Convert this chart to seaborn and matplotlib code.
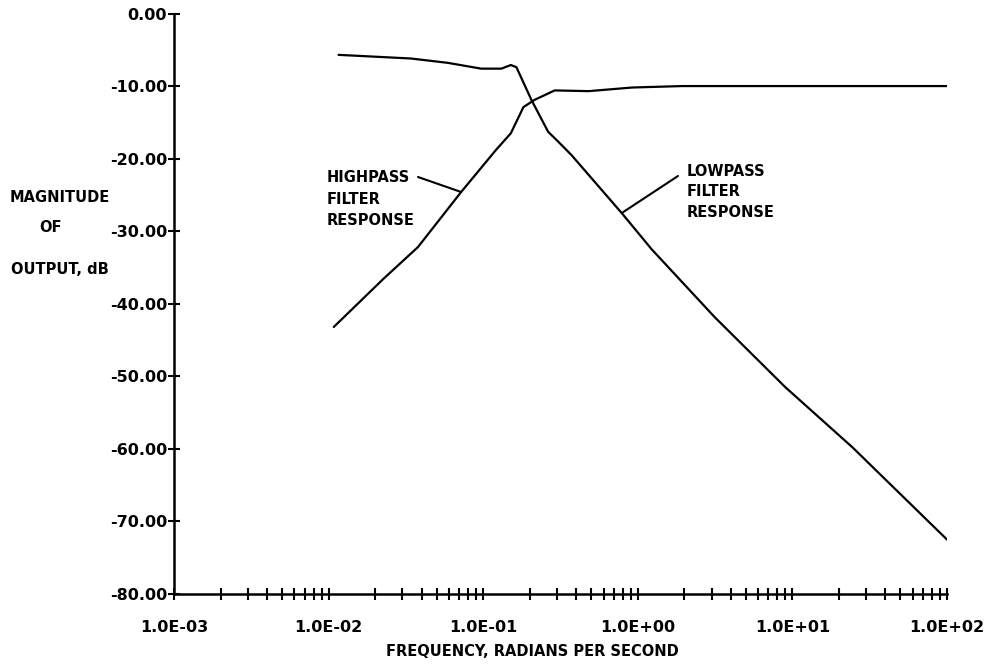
import matplotlib
matplotlib.use("Agg")
import matplotlib.pyplot as plt
import seaborn as sns
import numpy as np
import pandas as pd
from matplotlib.ticker import FixedLocator, FuncFormatter, LogLocator, NullFormatter

# ---- data ----
lowpass_freq = [0.0116, 0.034, 0.059, 0.097, 0.131, 0.151, 0.164, 0.205, 0.263,
                0.307, 0.372, 0.787, 1.23, 3.16, 9.0, 24.5, 100.0]
lowpass_db = [-5.7, -6.2, -6.8, -7.6, -7.6, -7.1, -7.4, -11.9, -16.3,
              -17.7, -19.5, -27.5, -32.5, -41.9, -51.5, -59.8, -72.5]

highpass_freq = [0.0108, 0.0228, 0.0378, 0.072, 0.121, 0.151, 0.182, 0.215,
                 0.29, 0.48, 0.92, 1.94, 8.6, 100.0]
highpass_db = [-43.2, -36.5, -32.2, -24.6, -18.8, -16.5, -12.9, -11.9,
               -10.6, -10.7, -10.2, -10.0, -10.0, -10.0]

y_ticks = [0, -10, -20, -30, -40, -50, -60, -70, -80]
x_major = [1e-3, 1e-2, 1e-1, 1e0, 1e1, 1e2]
x_labels = ["1.0E-03", "1.0E-02", "1.0E-01", "1.0E+00", "1.0E+01", "1.0E+02"]

sns.set_theme(style="white")
plt.rcParams["font.family"] = ["DejaVu Sans"]
plt.rcParams["font.weight"] = "bold"
plt.rcParams["axes.unicode_minus"] = False

W, H = 994, 669
fig = plt.figure(figsize=(W / 100, H / 100), dpi=100)
ax = fig.add_axes([174 / W, 1 - 594 / H, (947 - 174) / W, (594 - 13.5) / H])

lp = pd.DataFrame({"freq": lowpass_freq, "db": lowpass_db})
hp = pd.DataFrame({"freq": highpass_freq, "db": highpass_db})
sns.lineplot(data=lp, x="freq", y="db", ax=ax, color="black", lw=1.6, sort=False)
sns.lineplot(data=hp, x="freq", y="db", ax=ax, color="black", lw=1.6, sort=False)

ax.set_xscale("log")
ax.set_xlim(1e-3, 1e2)
ax.set_ylim(-80, 0)

for s in ["top", "right"]:
    ax.spines[s].set_visible(False)
for s in ["left", "bottom"]:
    ax.spines[s].set_color("black")
    ax.spines[s].set_linewidth(1.8)

ax.yaxis.set_major_locator(FixedLocator(y_ticks))
ax.yaxis.set_major_formatter(FuncFormatter(lambda v, p: f"{v:.2f}"))
ax.xaxis.set_major_locator(FixedLocator(x_major))
ax.set_xticklabels(x_labels)
ax.xaxis.set_minor_locator(LogLocator(base=10, subs=np.arange(2, 10)))
ax.xaxis.set_minor_formatter(NullFormatter())

ax.tick_params(axis="y", which="major", direction="inout", length=9, width=1.5,
               color="black", pad=0.5, labelsize=11.5, labelcolor="black", left=True)
ax.tick_params(axis="x", which="both", direction="inout", length=9, width=1.5,
               color="black", bottom=True)
ax.tick_params(axis="x", which="major", pad=14, labelsize=11.5, labelcolor="black")
for t in ax.get_xticklabels() + ax.get_yticklabels():
    t.set_fontweight("bold")

ax.set_xlabel("")
ax.set_ylabel("")

fs = 10.5
# x label
fig.text(532 / W, 1 - 652 / H, "FREQUENCY, RADIANS PER SECOND", ha="center",
         va="center", fontsize=fs, fontweight="bold", color="black")
# y label (three lines)
fig.text(60 / W, 1 - 197 / H, "MAGNITUDE", ha="center", va="center",
         fontsize=fs, fontweight="bold", color="black")
fig.text(51 / W, 1 - 228 / H, "OF", ha="center", va="center",
         fontsize=fs, fontweight="bold", color="black")
fig.text(60 / W, 1 - 269 / H, "OUTPUT, dB", ha="center", va="center",
         fontsize=fs, fontweight="bold", color="black")

# annotations
fig.text(327 / W, 1 - 170 / H, "HIGHPASS\nFILTER\nRESPONSE", ha="left", va="top",
         fontsize=fs, fontweight="bold", color="black", linespacing=1.55)
fig.text(687 / W, 1 - 164 / H, "LOWPASS\nFILTER\nRESPONSE", ha="left", va="top",
         fontsize=fs, fontweight="bold", color="black", linespacing=1.45)

ax.annotate("", xy=(highpass_freq[3], highpass_db[3]), xycoords="data",
            xytext=(418, H - 177), textcoords="figure pixels",
            arrowprops=dict(arrowstyle="-", color="black", lw=1.5,
                            shrinkA=0, shrinkB=0))
ax.annotate("", xy=(lowpass_freq[11], lowpass_db[11]), xycoords="data",
            xytext=(678, H - 176), textcoords="figure pixels",
            arrowprops=dict(arrowstyle="-", color="black", lw=1.5,
                            shrinkA=0, shrinkB=0))

fig.savefig("out.png", dpi=100, facecolor="white")
